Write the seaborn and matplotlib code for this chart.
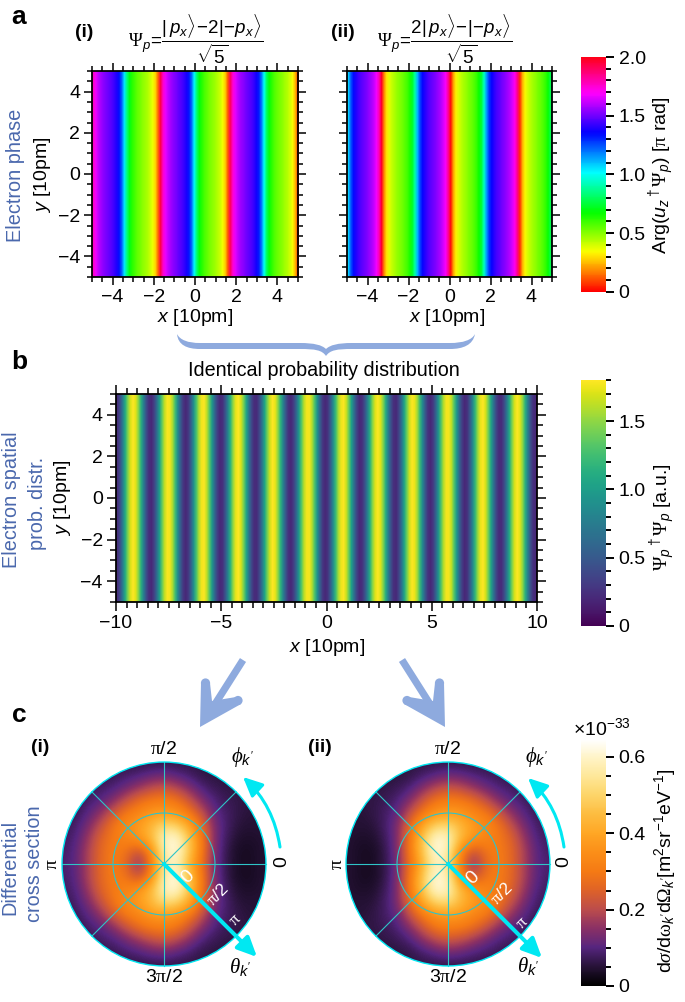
import numpy as np
import pandas as pd
import seaborn as sns
import matplotlib
matplotlib.use("Agg")
import matplotlib.pyplot as plt
from matplotlib.colors import LinearSegmentedColormap
from matplotlib.patches import FancyArrowPatch, PathPatch, Polygon, Circle
from matplotlib.path import Path
from matplotlib.ticker import FixedLocator

W, H = 685, 1002

plt.rcParams.update({
    "font.family": "Liberation Sans",
    "font.size": 14,
    "mathtext.fontset": "custom",
    "mathtext.rm": "Liberation Sans",
    "mathtext.it": "Liberation Sans:italic",
    "mathtext.bf": "Liberation Sans:bold",
    "mathtext.sf": "Liberation Serif",
    "mathtext.cal": "Liberation Serif:italic",
    "axes.linewidth": 1.3,
})

# phase read across panel a(i), one value per 0.125 step of x, in units of pi
PHASE_I = [1.771, 1.669, 1.609, 1.569, 1.539, 1.512, 1.488, 1.461, 1.431, 1.391,
           1.331, 1.229, 1.05, 0.842, 0.707, 0.632, 0.586, 0.551, 0.524, 0.499,
           0.475, 0.446, 0.412, 0.362, 0.283, 0.141, 1.93, 1.757, 1.66, 1.603,
           1.565, 1.535, 1.509, 1.484, 1.458, 1.427, 1.386, 1.324, 1.213, 1.024,
           0.822, 0.695, 0.626, 0.581, 0.548, 0.521, 0.496, 0.472, 0.444, 0.409,
           0.354, 0.274, 0.12, 1.902, 1.742, 1.653, 1.598, 1.56, 1.532, 1.506,
           1.481, 1.454, 1.422, 1.379, 1.314, 1.199, 1.0, 0.803, 0.685, 0.62,
           0.578, 0.544, 0.517, 0.493, 0.467, 0.438, 0.402, 0.345, 0.255, 0.098]

# same for panel a(ii)
PHASE_II = [1.064, 1.241, 1.339, 1.396, 1.434, 1.464, 1.49, 1.515, 1.541, 1.573,
            1.613, 1.676, 1.787, 1.979, 0.183, 0.306, 0.376, 0.42, 0.453, 0.48,
            0.505, 0.53, 0.558, 0.592, 0.648, 0.729, 0.891, 1.11, 1.265, 1.352,
            1.404, 1.441, 1.47, 1.495, 1.52, 1.548, 1.58, 1.625, 1.695, 1.822,
            0.024, 0.213, 0.324, 0.386, 0.427, 0.459, 0.484, 0.51, 0.536, 0.566,
            0.604, 0.665, 0.755, 0.936, 1.15, 1.285, 1.364, 1.412, 1.446, 1.475,
            1.5, 1.525, 1.555, 1.588, 1.636, 1.715, 1.848, 0.064, 0.241, 0.339,
            0.396, 0.434, 0.464, 0.49, 0.516, 0.541, 0.573, 0.614, 0.676, 0.787]

# probability read across panel b, one value per 0.125 step of x
PROB = [0.23, 0.41, 0.72, 1.10, 1.45, 1.70, 1.80, 1.72, 1.49, 1.14, 0.77, 0.44, 0.24,
        0.21, 0.35, 0.63, 0.99, 1.36, 1.64, 1.78, 1.76, 1.57, 1.25, 0.87, 0.53, 0.29,
        0.20, 0.29, 0.54, 0.89, 1.26, 1.58, 1.76, 1.79, 1.63, 1.34, 0.97, 0.61, 0.34, 0.21,
        0.25, 0.46, 0.79, 1.16, 1.50, 1.73, 1.80, 1.69, 1.43, 1.08, 0.70, 0.40, 0.23,
        0.22, 0.39, 0.69, 1.05, 1.42, 1.68, 1.80, 1.74, 1.51, 1.18, 0.81, 0.48, 0.26,
        0.20, 0.33, 0.59, 0.95, 1.32, 1.62, 1.77, 1.77, 1.59, 1.29, 0.92, 0.56, 0.30,
        0.20, 0.27, 0.51, 0.85, 1.22, 1.55, 1.75, 1.79, 1.66, 1.38, 1.01, 0.65, 0.36, 0.21,
        0.24, 0.43, 0.75, 1.12, 1.47, 1.71, 1.80, 1.71, 1.47, 1.12, 0.74, 0.43, 0.24,
        0.21, 0.36, 0.65, 1.02, 1.38, 1.66, 1.79, 1.75, 1.55, 1.22, 0.85, 0.51, 0.27,
        0.20, 0.30, 0.56, 0.92, 1.29, 1.59, 1.77, 1.77, 1.62, 1.31, 0.95, 0.59, 0.33,
        0.20, 0.26, 0.48, 0.81, 1.19, 1.52, 1.74, 1.80, 1.68, 1.41, 1.05, 0.68, 0.38, 0.22,
        0.23, 0.40, 0.71, 1.08, 1.44, 1.70, 1.80, 1.72, 1.50, 1.15, 0.78, 0.45, 0.25, 0.21]

# cross section of disk (i) on a square grid, step 1/8 of the radius, x = -1..1 along a row.
# Rows run y = 0 up to y = 1, the lower half of the disk mirrors them
DISK_I = [[.09, .10, .18, .26, .31, .27, .13, .30, .55, .60, .42, .28, .12, .06, .03, .035, .05],
          [.08, .10, .18, .26, .31, .29, .21, .33, .58, .63, .47, .30, .13, .06, .03, .035, .05],
          [.08, .09, .16, .25, .30, .33, .36, .44, .60, .62, .47, .30, .13, .07, .04, .04, .05],
          [.07, .08, .13, .21, .29, .34, .38, .44, .52, .50, .40, .27, .13, .08, .05, .05, .05],
          [.07, .07, .10, .15, .23, .30, .33, .37, .38, .36, .30, .21, .11, .08, .06, .05, .05],
          [.06, .06, .08, .10, .14, .21, .27, .30, .31, .29, .22, .14, .09, .07, .06, .06, .06],
          [.06, .06, .07, .08, .09, .12, .16, .20, .22, .19, .14, .09, .07, .06, .06, .06, .06],
          [.06, .06, .06, .06, .07, .08, .09, .11, .12, .10, .08, .06, .055, .055, .055, .055, .055],
          [.06, .06, .06, .06, .06, .06, .06, .06, .06, .06, .06, .06, .06, .06, .06, .06, .06]]
# disk (ii) is the left-right mirror image of disk (i)
DISK_II = [row[::-1] for row in DISK_I]

CROSS_MAX = 0.647
CROSS_STOPS = [(0, "#000000"), (.05, "#261236"), (.1, "#56257f"), (.15, "#8a3065"),
               (.2, "#bb4c4c"), (.25, "#de6228"), (.3, "#f57a14"), (.35, "#fb8e18"),
               (.4, "#ffa624"), (.45, "#fdbc40"), (.5, "#fdd468"), (.55, "#fee798"),
               (.6, "#fff4c8"), (.647, "#ffffff")]
cross_cmap = LinearSegmentedColormap.from_list(
    "cross", [(v / CROSS_MAX, c) for v, c in CROSS_STOPS])

BLUE = "#4a68ad"
LIGHT = "#8eaade"
CYAN = "#00e8f2"
GRID = "#2fc4c8"


def add_rect(fig, l, t, r, b, **kw):
    return fig.add_axes([l / W, 1 - b / H, (r - l) / W, (b - t) / H], **kw)


def minus(v):
    return f"{v:g}".replace("-", "\u2212")


def stripes(ax, values, xlim, xmajor, major_len, minor_len, show_y=True, **kw):
    # seaborn indexes cells from 0, so ticks get mapped from data units to cells
    n = len(values)
    sns.heatmap(pd.DataFrame([values]), ax=ax, xticklabels=False, yticklabels=False, **kw)
    # soften the cell edges the way the original raster is, blending colours so hsv wraps cleanly
    ax.imshow(np.array([values]), cmap=kw["cmap"], vmin=kw["vmin"], vmax=kw["vmax"], aspect="auto",
              extent=(0, n, 0, 1), origin="lower", interpolation="bilinear",
              interpolation_stage="rgba", zorder=2)
    ax.set_xlim(0, n)
    ax.set_ylim(0, 1)
    for s in ax.spines.values():
        s.set_visible(True)
        s.set_linewidth(1.3)
    to_x = lambda v: (v - xlim[0]) / (xlim[1] - xlim[0]) * n
    to_y = lambda v: (v + 5) / 10
    ax.set_xticks([to_x(v) for v in xmajor])
    ax.set_xticklabels([minus(v) for v in xmajor])
    ax.xaxis.set_minor_locator(FixedLocator([to_x(v) for v in np.arange(xlim[0], xlim[1] + .1, .5)]))
    ymajor = [-4, -2, 0, 2, 4]
    ax.set_yticks([to_y(v) for v in ymajor])
    ax.set_yticklabels([minus(v) for v in ymajor] if show_y else [])
    ax.yaxis.set_minor_locator(FixedLocator([to_y(v) for v in np.arange(-5, 5.1, .5)]))
    ax.tick_params(which="major", length=major_len, width=1.1, top=True, right=True,
                   bottom=True, left=True, labelsize=14, pad=3, labelrotation=0)
    ax.tick_params(which="minor", length=minor_len, width=1.1, top=True, right=True,
                   bottom=True, left=True)


def style_cbar(cb, ticks, labels, minor):
    cb.outline.set_visible(False)
    cb.set_ticks(ticks, labels=labels)
    cb.ax.yaxis.set_minor_locator(FixedLocator(minor))
    cb.ax.tick_params(which="major", length=6, width=1.4, labelsize=14, pad=3, right=True)
    cb.ax.tick_params(which="minor", length=3.4, width=1.4, right=True)


fig = plt.figure(figsize=(W / 100, H / 100), dpi=100)

# panel a
cax_a = add_rect(fig, 581, 57, 606, 292)
ax_ai = add_rect(fig, 92, 71, 298, 277)
stripes(ax_ai, PHASE_I, (-5, 5), [-4, -2, 0, 2, 4], 5.6, 3.5, cmap="hsv", vmin=0, vmax=2, cbar_ax=cax_a)
style_cbar(ax_ai.collections[0].colorbar, [0, .5, 1, 1.5, 2], ["0", "0.5", "1.0", "1.5", "2.0"],
           np.arange(0, 2.01, .1))
ax_aii = add_rect(fig, 347, 71, 552, 277)
stripes(ax_aii, PHASE_II, (-5, 5), [-4, -2, 0, 2, 4], 5.6, 3.5, show_y=False,
        cmap="hsv", vmin=0, vmax=2, cbar=False)

# panel b
cax_b = add_rect(fig, 581, 380, 606, 626)
ax_b = add_rect(fig, 116, 394, 537, 602)
stripes(ax_b, PROB, (-10, 10), [-10, -5, 0, 5, 10], 6.5, 4.4, cmap="viridis", vmin=0, vmax=1.8, cbar_ax=cax_b)
style_cbar(ax_b.collections[0].colorbar, [0, .5, 1, 1.5], ["0", "0.5", "1.0", "1.5"],
           np.arange(0, 1.81, .1))

# panel c
disk_im = None
for table, cx in ((DISK_I, 164), (DISK_II, 448)):
    ax = add_rect(fig, cx - 104, 760, cx + 104, 968)
    upper = np.array(table)
    full = np.vstack([upper[:0:-1], upper])
    half_cell = 1 / 16
    disk_im = ax.imshow(full, origin="lower", cmap=cross_cmap, vmin=0, vmax=CROSS_MAX,
                        interpolation="bicubic",
                        extent=(-1 - half_cell, 1 + half_cell, -1 - half_cell, 1 + half_cell))
    rim = Circle((0, 0), 1, transform=ax.transData, fc="none", ec=CYAN, lw=1.0, zorder=4)
    ax.add_patch(rim)
    disk_im.set_clip_path(rim)
    ax.add_patch(Circle((0, 0), .5, fc="none", ec=GRID, lw=0.8, zorder=3))
    for ang in np.radians(range(0, 180, 45)):
        ax.plot([-np.cos(ang), np.cos(ang)], [-np.sin(ang), np.sin(ang)], color=GRID, lw=0.8, zorder=3)
    ax.set_xlim(-1.02, 1.02)
    ax.set_ylim(-1.02, 1.02)
    ax.axis("off")

cax_c = add_rect(fig, 581, 739, 606, 986)
cb_c = fig.colorbar(disk_im, cax=cax_c)
style_cbar(cb_c, [0, .2, .4, .6], ["0", "0.2", "0.4", "0.6"], np.arange(0, .64, .05))

# everything else goes on a full figure overlay in pixel units
ov = fig.add_axes([0, 0, 1, 1], zorder=10)
ov.set_xlim(0, W)
ov.set_ylim(H, 0)
ov.axis("off")


def txt(x, y, s, size=14, color="black", rot=0, weight="normal"):
    ov.text(x, y, s, fontsize=size, color=color, rotation=rot, fontweight=weight,
            ha="center", va="center", rotation_mode="anchor" if rot % 90 else "default")


for x, y, s in ((19, 17, "a"), (19, 362, "b"), (19, 715, "c")):
    txt(x, y, s, size=19, weight="bold")
for x, y, s in ((84, 32, "(i)"), (343, 32, "(ii)"), (40, 748, "(i)"), (320, 748, "(ii)")):
    txt(x, y, s, size=14, weight="bold")

txt(196, 39, r"$\mathsf{\Psi}_p\!=\!\dfrac{|\,p_x\rangle\!-\!2|\!-\!p_x\rangle}{\sqrt{5}}$", size=13.5)
txt(445, 39, r"$\mathsf{\Psi}_p\!=\!\dfrac{2|\,p_x\rangle\!-\!|\!-\!p_x\rangle}{\sqrt{5}}$", size=13.5)

txt(16, 175, "Electron phase", size=14.3, color=BLUE, rot=90)
txt(12, 500, "Electron spatial", size=14.3, color=BLUE, rot=90)
txt(38, 503, "prob. distr.", size=14.3, color=BLUE, rot=90)
txt(10, 867, "Differential", size=14.3, color=BLUE, rot=90)
txt(35, 864, "cross section", size=14.3, color=BLUE, rot=90)

xy_label = r"$x$ [10pm]"
txt(195, 318, xy_label)
txt(447, 318, xy_label)
txt(327, 647, xy_label)
txt(43, 175, r"$y$ [10pm]", rot=90)
txt(63, 498, r"$y$ [10pm]", rot=90)
txt(324, 370, "Identical probability distribution", size=14.2)

txt(662, 175, r"Arg($u_z{}^\dagger\mathsf{\Psi}_p$) [$\mathsf{\pi}$ rad]", rot=90)
txt(663, 517, r"$\mathsf{\Psi}_p{}^\dagger\mathsf{\Psi}_p$ [a.u.]", rot=90)
txt(665, 871, r"d$\mathcal{\sigma}$/d$\mathsf{\omega}_{k'}$d$\mathsf{\Omega}_{k'}$[m$^{2}$sr$^{-1}$eV$^{-1}$]", rot=90)
txt(602, 728, r"$\mathregular{\times 10^{-33}}$")

# brace
brace_verts = [(177, 334), (178, 345), (187, 349), (200, 349), (300, 349),
               (315, 349), (322, 350), (326, 356), (330, 350), (337, 349), (352, 349), (450, 349),
               (463, 349), (473, 345), (475, 334), (472, 340), (463, 343), (450, 343), (352, 343),
               (338, 343), (330, 345), (326, 349), (322, 345), (314, 343), (300, 343), (200, 343),
               (188, 343), (180, 340), (177, 334)]
C4, L = Path.CURVE4, Path.LINETO
brace_codes = [Path.MOVETO, C4, C4, C4, L, C4, C4, C4, C4, C4, C4, L, C4, C4, C4, C4, C4, C4, L,
               C4, C4, C4, C4, C4, C4, L, C4, C4, C4]
ov.add_patch(PathPatch(Path(brace_verts, brace_codes), fc=LIGHT, ec="none"))


# big arrows between b and c, sign flips the left one over to the right
def big_arrow(mirror):
    fx = (lambda x: 645 - x) if mirror else (lambda x: x)
    ov.plot([fx(243), fx(210)], [660, 712], color=LIGHT, lw=5.2, solid_capstyle="butt")
    ov.add_patch(Polygon([(fx(x), y) for x, y in ((200, 727), (201, 683), (210, 683), (212, 701),
                                                   (236, 697), (241, 704))], fc=LIGHT, ec="none"))
    ov.add_patch(Circle((fx(205.5), 683), 4.6, fc=LIGHT, ec="none"))
    ov.add_patch(Circle((fx(238), 700.5), 4.6, fc=LIGHT, ec="none"))


big_arrow(False)
big_arrow(True)

# labels and arrows on the disks
for cx, pi_x, zero_x, phi, theta_pos, zero_w, half_w, pi_w, tip, arc_a, arc_b in (
        (164, 53, 282, (243, 757), (240, 968), (188, 877), (218, 894), (235, 920),
         (257, 957), (280, 847), (243, 777)),
        (448, 338, 564, (537, 757), (528, 967), (473, 878), (502, 893), (522, 923),
         (542, 958), (564, 847), (528, 778))):
    txt(cx, 750, r"$\mathsf{\pi}$/2")
    txt(cx, 978, r"3$\mathsf{\pi}$/2")
    txt(pi_x, 864, r"$\mathsf{\pi}$", rot=90)
    txt(zero_x, 862, "0", rot=90)
    txt(*phi, r"$\mathcal{\phi}_{k'}$", size=15)
    txt(*theta_pos, r"$\mathcal{\theta}_{k'}$", size=15)
    txt(*zero_w, "0", color="white", rot=45)
    txt(*half_w, r"$\mathsf{\pi}$/2", color="white", size=12.5, rot=45)
    txt(*pi_w, r"$\mathsf{\pi}$", color="white", size=12.5, rot=45)
    ov.add_patch(FancyArrowPatch((cx, 864), tip, arrowstyle="-|>,head_length=0.9,head_width=0.42",
                                 mutation_scale=13, lw=2.9, color=CYAN, shrinkA=0, shrinkB=0))
    ov.add_patch(FancyArrowPatch(arc_a, arc_b, arrowstyle="-|>,head_length=0.9,head_width=0.42",
                                 connectionstyle="arc3,rad=0.175", mutation_scale=13, lw=2.2,
                                 color=CYAN, shrinkA=0, shrinkB=0))

plt.savefig("out.png", dpi=100)
